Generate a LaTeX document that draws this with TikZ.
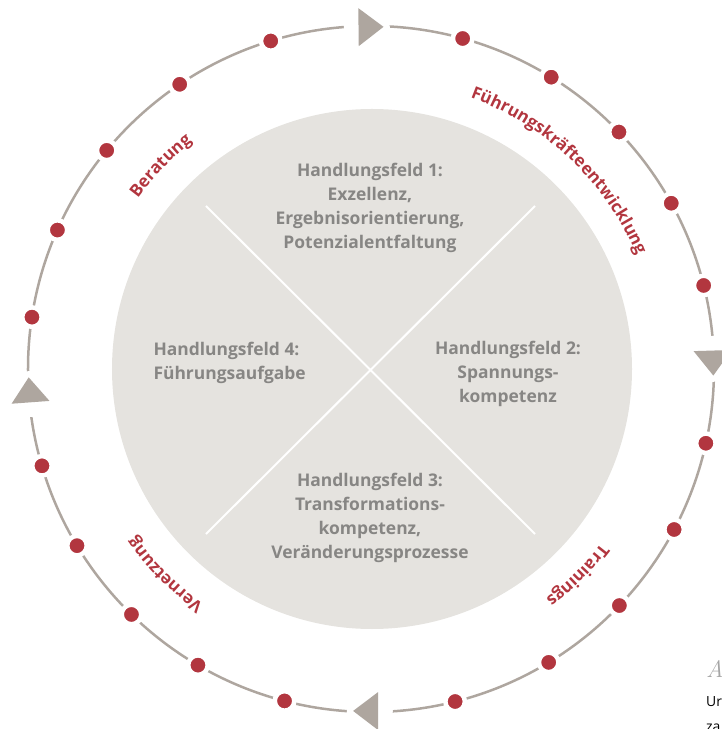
\documentclass[tikz,border=0pt]{standalone}
\usepackage{fontspec}
\setsansfont{Open Sans}
\usetikzlibrary{decorations.text}
\definecolor{ringgray}{HTML}{AEA69F}
\definecolor{dotred}{HTML}{B2363F}
\definecolor{discgray}{HTML}{E5E3DF}
\definecolor{textgray}{HTML}{878684}
\begin{document}
\begin{tikzpicture}[x=1bp,y=1bp]
\tikzstyle{every node}=[font=\sffamily\bfseries\fontsize{17.5}{24}\selectfont]
\tikzstyle{field}=[text=textgray,align=center]
\tikzstyle{dot}=[circle,fill=dotred,draw=white,line width=4.5bp,inner sep=0pt,minimum size=19.5bp]
\tikzstyle{ring label}=[decorate,decoration={text along path,text align=center,text color=dotred}]
\useasboundingbox (-371,-360) rectangle (351,369);
% inner disc with the four fields
\fill[discgray] (1,0) circle (260);
\coordinate (nw) at (-165,163);
\coordinate (ne) at (164,163);
\coordinate (sw) at (-165,-165);
\coordinate (se) at (164,-165);
\draw[white,line width=2bp] (nw) -- (se) (ne) -- (sw);
\node[field] (f1) at (-1,161) {Handlungsfeld 1:\\Exzellenz,\\Ergebnisorientierung,\\Potenzialentfaltung};
\node[field] (f2) at (137,-5) {Handlungsfeld 2:\\Spannungs-\\kompetenz};
\node[field] (f3) at (-1,-149) {Handlungsfeld 3:\\Transformations-\\kompetenz,\\Veränderungsprozesse};
\node[field,align=left,anchor=west] (f4) at (-221,6) {Handlungsfeld 4:\\Führungsaufgabe};
% outer ring
\draw[ringgray,line width=2.5bp] (0,0) circle (343);
\foreach \a [count=\i] in {74.5,58.3,43.7,28.9,14.1,-12.5,-27.9,-43.6,-58.8,-75.8,
  255.4,239.7,225.7,211,196.4,171.3,156.1,140.4,123.9,107}
  \node[dot] (d\i) at (\a:343) {};
\foreach \a in {90.7,1.7,269.8,184.2}{
  \fill[white] (\a:342) circle (23);
  \fill[ringgray,shift={(\a:342)},rotate=\a-90] (-8.3,19) -- (16.7,0) -- (-8.3,-19) -- cycle;
}
% labels along the ring
\path[ring label,decoration={text={|\sffamily\bfseries\fontsize{17}{20}\selectfont|Beratung}}]
  (176:289) arc[start angle=176,end angle=96,radius=289];
\path[ring label,decoration={text={|\sffamily\bfseries\fontsize{17}{20}\selectfont|Führungskräfteentwicklung}}]
  (96:289) arc[start angle=96,end angle=-3,radius=289];
\path[ring label,decoration={text={|\sffamily\bfseries\fontsize{17}{20}\selectfont|Trainings}}]
  (-5:289) arc[start angle=-5,end angle=-85,radius=289];
\path[ring label,decoration={text={|\sffamily\bfseries\fontsize{17}{20}\selectfont|Vernetzung}}]
  (265:289) arc[start angle=265,end angle=185,radius=289];
% cut-off caption at the edge
\node[anchor=base west,inner sep=0pt,text=black!35,font=\rmfamily\itshape\fontsize{24}{24}\selectfont] (cap) at (335,-308) {A};
\node[anchor=base west,inner sep=0pt,font=\sffamily\fontsize{14}{14}\selectfont] (cap1) at (335,-337) {Ur};
\node[anchor=base west,inner sep=0pt,font=\sffamily\fontsize{14}{14}\selectfont] (cap2) at (335,-362) {za};
\end{tikzpicture}
\end{document}
